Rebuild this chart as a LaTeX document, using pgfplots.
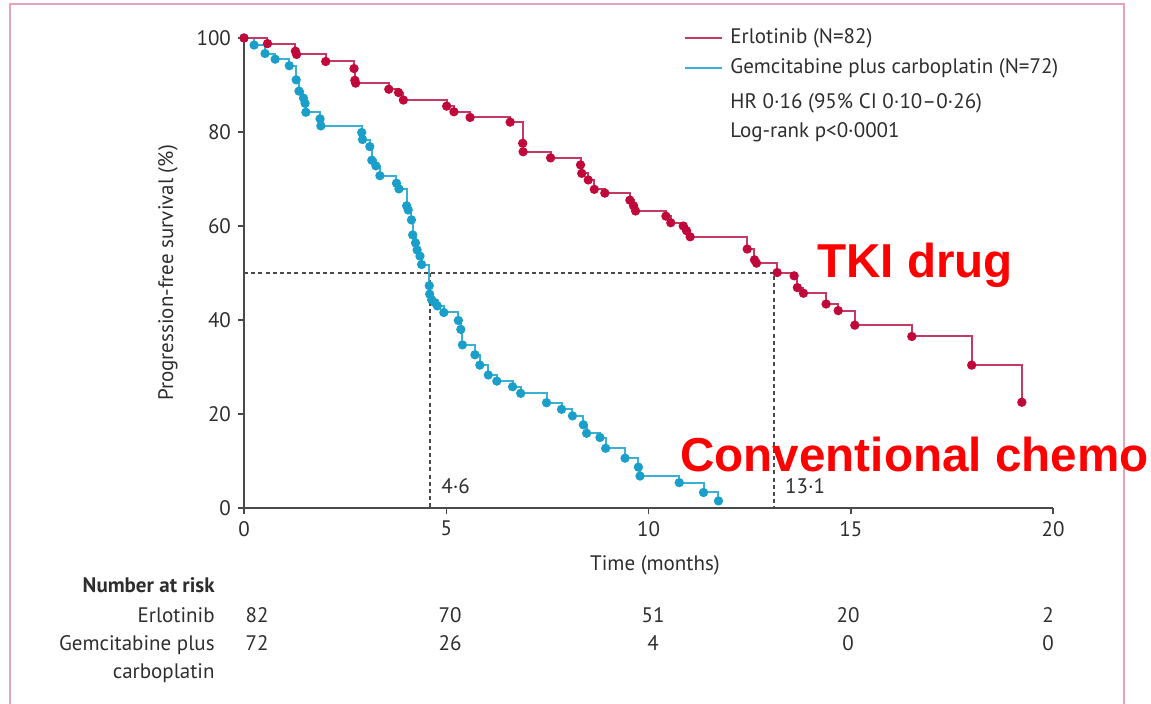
\documentclass[border=0pt]{standalone}
\usepackage{fontspec}
\setmainfont{PT Sans}
\newfontfamily\annfont{Liberation Sans}
\usepackage{pgfplots}
\pgfplotsset{compat=1.18}
\definecolor{erlred}{HTML}{C1083B}
\definecolor{erlline}{HTML}{C43A62}
\definecolor{gemblue}{HTML}{1A9FCA}
\definecolor{gemline}{HTML}{3AB1D3}
\definecolor{axgray}{HTML}{4A4A4A}
\definecolor{txt}{HTML}{2E2E2E}
\definecolor{framepink}{HTML}{E7A3BB}
\newcommand\lf{\fontsize{10.5}{12.5}\selectfont}

\begin{document}
\begin{tikzpicture}[x=0.5pt,y=0.5pt]
\path[use as bounding box] (0,0) rectangle (1151,703);
\draw[framepink, line width=0.7pt] (10,-5) -- (10,699) -- (1124,699) -- (1124,-5);

\begin{axis}[
  at={(122pt,97.5pt)}, anchor=south west,
  scale only axis, width=404.5pt, height=235pt,
  xmin=0, xmax=20, ymin=0, ymax=100,
  axis lines=left,
  axis line style={-, draw=axgray, line width=0.75pt},
  tick align=outside, major tick length=3pt,
  tick style={axgray, line width=0.75pt},
  xtick={0,5,10,15,20}, ytick={0,20,40,60,80,100},
  /pgf/number format/assume math mode=true,
  ticklabel style={font=\lf, text=txt},
  xlabel={Time (months)},
  ylabel={Progression-free survival (\%)},
  label style={font=\lf, text=txt},
  xlabel style={at={(axis description cs:0.508,-0.123)}, anchor=center},
  ylabel style={at={(axis description cs:-0.094,0.5)}, anchor=center},
  clip=false,
]
% median lines
\addplot[axgray, line width=0.6pt, dash pattern=on 2pt off 1.6pt]
  coordinates {(0,50)(13.1,50)(13.1,0)};
\addplot[axgray, line width=0.6pt, dash pattern=on 2pt off 1.6pt]
  coordinates {(4.6,50)(4.6,0)};

% gemcitabine plus carboplatin
\addplot[const plot, gemline, line width=1pt, mark=*, mark size=1.8pt,
  mark options={draw=gemblue, fill=gemblue}]
  coordinates {
  (0,100)(0.25,98.5)(0.52,96.7)(0.77,95.5)(1.12,94.1)
  (1.29,91.1)(1.36,88.7)(1.47,87.2)(1.51,86.1)(1.53,84.2)
  (1.88,82.8)(1.90,81.3)
  (2.91,79.9)(2.93,78.4)(3.11,76.9)(3.16,74.0)(3.26,72.8)(3.36,70.7)
  (3.77,69.1)(3.83,67.9)
  (4.02,64.3)(4.06,63.4)(4.14,61.3)(4.17,58.1)(4.24,56.4)(4.28,54.9)(4.35,53.6)(4.39,51.8)
  (4.58,47.3)(4.59,45.5)(4.64,44.3)(4.72,43.7)(4.78,43.0)(4.94,41.6)
  (5.30,39.9)(5.36,38.0)(5.40,34.7)(5.71,32.6)(5.83,30.4)(6.04,28.3)(6.25,27.0)
  (6.64,25.8)(6.84,24.4)(7.48,22.4)(7.85,21.0)(8.12,19.6)(8.39,17.7)(8.47,15.9)
  (8.80,15.0)(8.94,12.7)(9.42,10.6)(9.75,8.7)(9.79,6.8)
  (10.76,5.4)(11.36,3.3)(11.73,1.5)
  };

% erlotinib
\addplot[const plot, erlline, line width=1pt, mark=*, mark size=1.8pt,
  mark options={draw=erlred, fill=erlred}]
  coordinates {
  (0,100)(0.58,98.8)(1.27,97.2)(1.30,96.5)(2.02,95.0)
  (2.72,93.5)(2.74,91.0)(2.76,90.4)
  (3.58,89.1)(3.82,88.4)(3.94,86.8)
  (5.01,85.5)(5.19,84.3)(5.59,83.1)(6.58,82.1)
  (6.89,77.6)(6.90,75.8)(7.58,74.5)
  (8.32,73.0)(8.35,71.2)(8.51,69.8)(8.66,67.8)(8.92,67.0)
  (9.54,65.5)(9.63,64.3)(9.68,63.2)
  (10.43,62.1)(10.55,60.7)(10.86,60.0)(10.94,59.0)(11.03,57.7)
  (12.44,55.1)(12.62,52.8)(12.67,52.1)
  (13.18,50.1)(13.60,49.4)(13.68,46.9)(13.83,45.7)
  (14.39,43.4)(14.69,42.0)(15.10,38.9)(16.51,36.5)(17.99,30.4)(19.23,22.5)
  };

\node[anchor=base west, inner sep=0pt, font=\lf, text=txt] at (axis cs:4.87,3) {4·6};
\node[anchor=base west, inner sep=0pt, font=\lf, text=txt] at (axis cs:13.37,3) {13·1};
\end{axis}

% legend and statistics
\draw[erlline, line width=1pt] (685,665) -- (722,665);
\draw[gemline, line width=1pt] (685,635) -- (722,635);
\node[anchor=west, inner sep=0pt, font=\lf, text=txt] at (730,665) {Erlotinib (N=82)};
\node[anchor=west, inner sep=0pt, font=\lf, text=txt] at (730,635) {Gemcitabine plus carboplatin (N=72)};
\node[anchor=west, inner sep=0pt, font=\lf, text=txt] at (730,600) {HR 0·16 (95\% CI 0·10–0·26)};
\node[anchor=west, inner sep=0pt, font=\lf, text=txt] at (730,571) {Log-rank p<0·0001};

% annotations
\node[anchor=base west, inner sep=0pt, text=red, font=\annfont\bfseries\fontsize{23.8}{28}\selectfont] at (817,426) {TKI drug};
\node[anchor=base west, inner sep=0pt, text=red, font=\annfont\bfseries\fontsize{23.8}{28}\selectfont] at (680,232) {Conventional chemo};

% number at risk
\begin{scope}[every node/.style={inner sep=0pt, font=\lf, text=txt}]
\node[anchor=base east, font=\lf\bfseries] at (215,111) {Number at risk};
\node[anchor=base east] at (215,81) {Erlotinib};
\node[anchor=base east] at (215,53) {Gemcitabine plus};
\node[anchor=base east] at (215,25) {carboplatin};
\node[anchor=base] at (257,81) {82};
\node[anchor=base] at (450,81) {70};
\node[anchor=base] at (653,81) {51};
\node[anchor=base] at (848,81) {20};
\node[anchor=base] at (1048,81) {2};
\node[anchor=base] at (257,53) {72};
\node[anchor=base] at (450,53) {26};
\node[anchor=base] at (653,53) {4};
\node[anchor=base] at (848,53) {0};
\node[anchor=base] at (1048,53) {0};
\end{scope}
\end{tikzpicture}
\end{document}
